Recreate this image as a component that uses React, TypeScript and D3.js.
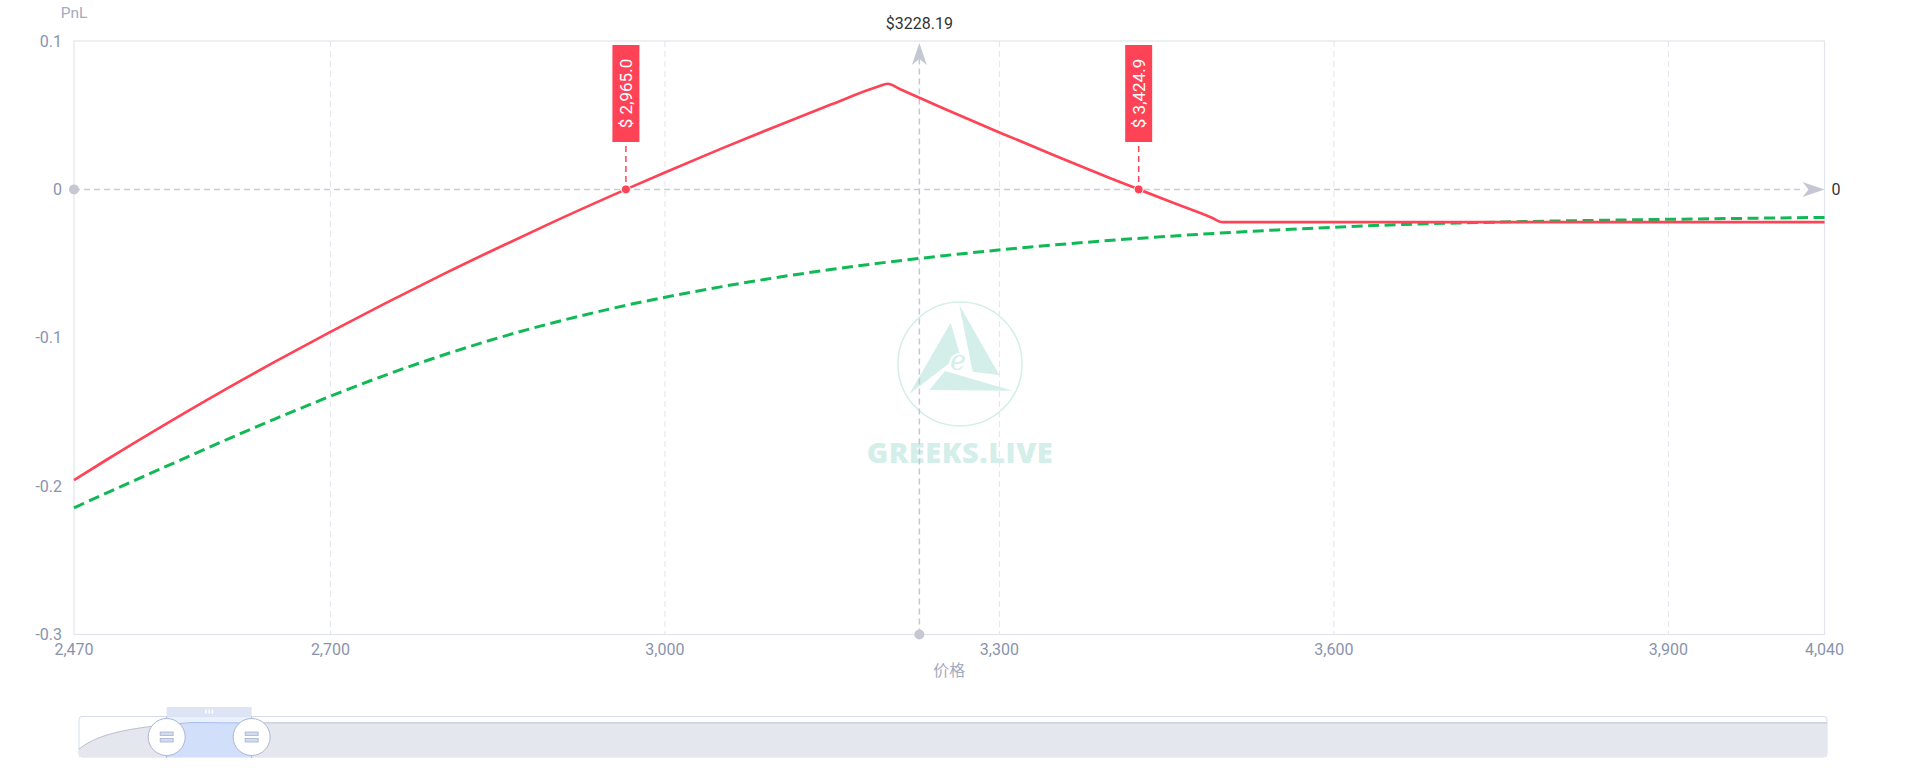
import React from 'react';
import * as d3 from 'd3';

// ---- data ----
const priceTicks = [2470, 2700, 3000, 3300, 3600, 3900, 4040];
const pnlTicks = [0.1, 0, -0.1, -0.2, -0.3];
const gridPrices = [2700, 3000, 3300, 3600, 3900];

const expiryPrices = [2470, 2500, 2550, 2600, 2650, 2700, 2750, 2800, 2850, 2900, 2965, 3000, 3050, 3100, 3150, 3190, 3200, 3210, 3250, 3300, 3350, 3400, 3424.9, 3450, 3490, 3500, 3600, 3800, 4040];
const expiryPnl = [-0.196, -0.1819, -0.1592, -0.1373, -0.1163, -0.096, -0.0765, -0.0576, -0.0395, -0.0219, 0, 0.0114, 0.0273, 0.0426, 0.0575, 0.069, 0.0712, 0.0678, 0.0545, 0.0384, 0.0227, 0.0074, 0, -0.0074, -0.0189, -0.0221, -0.0221, -0.0221, -0.0221];

const currentPrices = [2470, 2550, 2650, 2750, 2850, 2950, 3050, 3150, 3250, 3350, 3450, 3550, 3650, 3750, 3850, 3950, 4040];
const currentPnl = [-0.2146, -0.1876, -0.1548, -0.125, -0.1002, -0.0807, -0.0657, -0.0539, -0.0447, -0.0374, -0.0317, -0.0273, -0.024, -0.022, -0.0207, -0.0197, -0.0189];

const breakevens = [2965.0, 3424.9];
const spotPrice = 3228.19;

const shadowPrices = [850, 1000, 1200, 1500, 1800, 2200, 2600, 3000, 3500, 33150];
const shadowPnl = [-2.434, -1.922, -1.439, -0.955, -0.633, -0.34, -0.137, 0.011, -0.022, -0.022];

const xDomain = [2470, 4040];
const yDomain = [-0.3, 0.1];

const FONT = "Roboto, 'Noto Sans CJK SC', 'Noto Sans', sans-serif";
const RED = '#ff4356';
const GREEN = '#10b955';
const TICK = '#8a93ae';
const WM = '#d4eee9';

export default function App() {
  const W = 1920, H = 768;
  const left = 74, right = 1824.5, top = 41, bottom = 634.5;
  const x = d3.scaleLinear().domain(xDomain).range([left, right]);
  const y = d3.scaleLinear().domain(yDomain).range([bottom, top]);

  const expiry = expiryPrices.map((p, i) => [p, expiryPnl[i]] as [number, number]);
  const current = currentPrices.map((p, i) => [p, currentPnl[i]] as [number, number]);
  const line = d3.line<[number, number]>().x(d => x(d[0])).y(d => y(d[1])).curve(d3.curveMonotoneX);

  const y0 = y(0);
  const sx = x(spotPrice);

  // slider
  const sL = 79, sR = 1827, sT = 716.5, sB = 757;
  const sliderX = d3.scaleLinear().domain([shadowPrices[0], shadowPrices[shadowPrices.length - 1]]).range([sL, sR]);
  const sliderY = d3.scaleLinear().domain([d3.min(shadowPnl)!, d3.max(shadowPnl)!]).range([749, 722.5]);
  const shadow = shadowPrices.map((p, i) => [p, shadowPnl[i]] as [number, number]);
  const shadowArea = d3.area<[number, number]>().x(d => sliderX(d[0])).y0(sB).y1(d => sliderY(d[1])).curve(d3.curveMonotoneX);
  const shadowLine = d3.line<[number, number]>().x(d => sliderX(d[0])).y(d => sliderY(d[1])).curve(d3.curveMonotoneX);
  const h0 = sliderX(xDomain[0]);
  const h1 = sliderX(xDomain[1]);
  const hy = 737;

  const fmtX = d3.format(',');

  return (
    <svg width={W} height={H} style={{ position: 'absolute', left: 0, top: 0, background: '#fff' }} fontFamily={FONT}>
      <defs>
        <clipPath id="sel">
          <rect x={h0} y={sT} width={h1 - h0} height={sB - sT} />
        </clipPath>
      </defs>

      {/* watermark */}
      <g>
        <circle cx={960} cy={364} r={62} fill="none" stroke={WM} strokeWidth={1.5} />
        <polygon points="950.7,322.7 960,355 909.3,394" fill={WM} />
        <polygon points="959.3,305 972.7,371.7 999.3,375" fill={WM} />
        <polygon points="929.3,390 945,371 1012.7,390.7" fill={WM} />
        <text x={958} y={370} textAnchor="middle" fontFamily="'DejaVu Serif', serif" fontStyle="italic" fontSize={27} fill={WM} stroke="#fff" strokeWidth={4} paintOrder="stroke" strokeLinejoin="round">e</text>
        <text x={960} y={463} textAnchor="middle" fontSize={29} fontWeight={800} fill={WM} fontFamily="'Open Sans', Roboto, sans-serif" letterSpacing={0.5}>GREEKS.LIVE</text>
      </g>

      {/* grid */}
      {gridPrices.map(p => (
        <line key={p} x1={x(p)} x2={x(p)} y1={top} y2={bottom} stroke="#e3e5ec" strokeWidth={1} strokeDasharray="6,4" />
      ))}
      {/* frame */}
      <rect x={left} y={top} width={right - left} height={bottom - top} fill="none" stroke="#e1e4eb" strokeWidth={1.2} />

      {/* zero line */}
      <line x1={left} x2={right - 20} y1={y0} y2={y0} stroke="#c9ccd6" strokeWidth={1.5} strokeDasharray="6,4" />
      <path d={`M${right},${y0} L${right - 22},${y0 - 7.5} L${right - 16},${y0} L${right - 22},${y0 + 7.5} Z`} fill="#c5c8d3" />
      <circle cx={left} cy={y0} r={5} fill="#c5c8d3" />
      <text x={right + 7} y={y0 + 5.5} fontSize={16} fill="#333">0</text>

      {/* spot line */}
      <line x1={sx} x2={sx} y1={bottom} y2={top + 18} stroke="#c5c8d3" strokeWidth={1.5} strokeDasharray="6,4" />
      <path d={`M${sx},${top + 2} L${sx - 7.5},${top + 24} L${sx},${top + 18} L${sx + 7.5},${top + 24} Z`} fill="#c5c8d3" />
      <circle cx={sx} cy={bottom} r={5} fill="#c5c8d3" />
      <text x={sx} y={29} textAnchor="middle" fontSize={16} fill="#333">${spotPrice.toFixed(2)}</text>

      {/* series */}
      <path d={line(current)!} fill="none" stroke={GREEN} strokeWidth={3} strokeDasharray="11,5.5" />
      <path d={line(expiry)!} fill="none" stroke={RED} strokeWidth={2.7} />

      {/* breakevens */}
      {breakevens.map(b => {
        const bx = x(b);
        return (
          <g key={b}>
            <line x1={bx} x2={bx} y1={146} y2={y0 - 4} stroke={RED} strokeWidth={1.5} strokeDasharray="6,4" />
            <rect x={bx - 13.5} y={45} width={27} height={97} fill={RED} />
            <text transform={`translate(${bx + 6},93.5) rotate(-90)`} textAnchor="middle" fontSize={17} fill="#fff">{`$ ${d3.format(',.1f')(b)}`}</text>
            <circle cx={bx} cy={y0} r={4.5} fill={RED} stroke="#fff" strokeWidth={1} />
          </g>
        );
      })}

      {/* y axis labels */}
      {pnlTicks.map(t => (
        <text key={t} x={62} y={y(t) + 5.7} textAnchor="end" fontSize={16} fill={TICK}>{String(t)}</text>
      ))}
      <text x={left} y={17.5} textAnchor="middle" fontSize={15.5} fill="#a3abc2">PnL</text>

      {/* x axis labels */}
      {priceTicks.map(t => (
        <text key={t} x={x(t)} y={654.5} textAnchor="middle" fontSize={16} fill={TICK}>{fmtX(t)}</text>
      ))}
      <text x={(left + right) / 2} y={676} textAnchor="middle" fontSize={16} fill="#a3abc2">价格</text>

      {/* slider */}
      <g>
        <rect x={sL} y={sT} width={sR - sL} height={sB - sT} rx={3} fill="#fff" stroke="#d3dbec" strokeWidth={1} />
        <path d={shadowArea(shadow)!} fill="#e4e7ee" />
        <path d={shadowLine(shadow)!} fill="none" stroke="#b7bfd3" strokeWidth={1} />
        <g clipPath="url(#sel)">
          <rect x={h0} y={sT} width={h1 - h0} height={sB - sT} fill="#eaf0fd" />
          <path d={shadowArea(shadow)!} fill="#d2dffa" />
          <path d={shadowLine(shadow)!} fill="none" stroke="#a6bdf0" strokeWidth={1} />
        </g>
        <rect x={h0} y={707} width={h1 - h0} height={9.5} fill="#dde4f3" />
        <g fill="#fff">
          <rect x={(h0 + h1) / 2 - 4} y={709.5} width={1.5} height={4} />
          <rect x={(h0 + h1) / 2 - 0.75} y={709.5} width={1.5} height={4} />
          <rect x={(h0 + h1) / 2 + 2.5} y={709.5} width={1.5} height={4} />
        </g>
        {[h0, h1].map((hx, i) => (
          <g key={i}>
            <line x1={hx} x2={hx} y1={sT} y2={sB + 1} stroke="#acb8d1" strokeWidth={1} />
            <circle cx={hx} cy={hy} r={18.5} fill="#fff" stroke="#acb8d1" strokeWidth={1} />
            <rect x={hx - 6.5} y={hy - 5} width={13} height={3.5} fill="#d3dbee" stroke="#a3b2d3" strokeWidth={0.8} />
            <rect x={hx - 6.5} y={hy + 1.5} width={13} height={3.5} fill="#d3dbee" stroke="#a3b2d3" strokeWidth={0.8} />
          </g>
        ))}
      </g>
    </svg>
  );
}
